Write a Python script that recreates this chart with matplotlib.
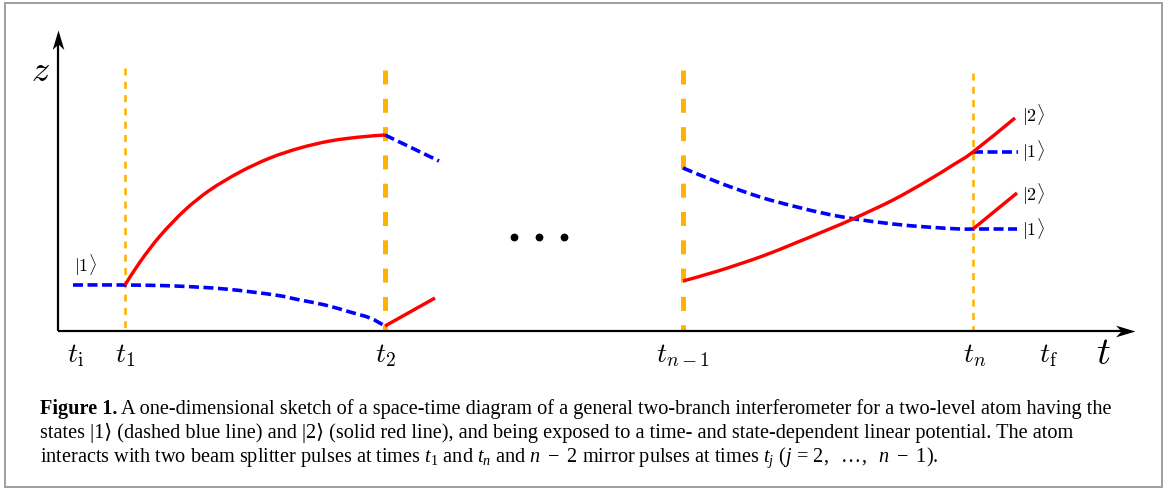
import matplotlib
matplotlib.use("Agg")
import matplotlib.pyplot as plt
from matplotlib.path import Path
from matplotlib.patches import Rectangle, PathPatch

# ---------------- data (t, z in sketch units) ----------------
pulse_times = [0.67, 3.27, 6.25, 9.15]          # t1, t2, t_{n-1}, t_n
pulse_kind = ["split", "mirror", "mirror", "split"]
pulse_top = [2.63, 2.61, 2.61, 2.58]

tick_pos = [0.17, 0.67, 3.27, 6.25, 9.17, 9.90]
tick_labels = [r"$t_{\mathrm{i}}$", r"$t_1$", r"$t_2$", r"$t_{n-1}$", r"$t_n$", r"$t_{\mathrm{f}}$"]

# first segment (t_i -> t2)
blue1_t = [0.15, 0.67, 1.17, 1.67, 2.17, 2.42, 2.67, 2.92, 3.12, 3.27]
blue1_z = [0.46, 0.46, 0.45, 0.42, 0.36, 0.31, 0.26, 0.19, 0.13, 0.05]
red1_t = [0.67, 0.82, 1.02, 1.27, 1.52, 1.82, 2.12, 2.42, 2.72, 3.02, 3.27]
red1_z = [0.46, 0.69, 0.95, 1.21, 1.41, 1.59, 1.73, 1.83, 1.90, 1.94, 1.96]
# short pieces after t2
blue2_t = [3.27, 3.81]
blue2_z = [1.96, 1.70]
red2_t = [3.27, 3.77]
red2_z = [0.05, 0.33]

# last segment (t_{n-1} -> t_f)
blue3_t = [6.25, 6.62, 7.02, 7.35, 7.69, 7.97, 8.35, 8.69, 9.02, 9.15, 9.59]
blue3_z = [1.63, 1.48, 1.34, 1.25, 1.17, 1.12, 1.07, 1.04, 1.02, 1.02, 1.02]
red3_t = [6.25, 6.60, 7.02, 7.35, 7.69, 7.97, 8.35, 8.69, 8.95, 9.15, 9.57]
red3_z = [0.50, 0.60, 0.74, 0.87, 1.01, 1.13, 1.31, 1.50, 1.66, 1.79, 2.13]
blue4_t = [9.15, 9.60]
blue4_z = [1.79, 1.79]
red4_t = [9.15, 9.59]
red4_z = [1.02, 1.38]

out_labels = [r"$|2\rangle$", r"$|1\rangle$", r"$|2\rangle$", r"$|1\rangle$"]
out_label_z = [2.16, 1.80, 1.37, 1.02]
out_label_t = 9.64
in_label = r"$|1\rangle$"
in_label_pos = (0.27, 0.66)

dots_t = [4.56, 4.81, 5.06]
dots_z = [0.94, 0.94, 0.94]

axis_t_end = 10.77
axis_z_end = 3.01

caption_head = "Figure 1."
caption = [
    "A one-dimensional sketch of a space-time diagram of a general two-branch interferometer for a two-level atom having the",
    "states |1\u27e9 (dashed blue line) and |2\u27e9 (solid red line), and being exposed to a time- and state-dependent linear potential. The atom",
    r"interacts with two beam splitter pulses at times $t_1$ and $t_n$ and $n\ -\ 2$ mirror pulses at times $t_j$ $(j\,=\,2,\ \ \ldots,\ \ n\ -\ 1)$.",
]

# ---------------- style ----------------
plt.rcParams["mathtext.fontset"] = "cm"
plt.rcParams["mathtext.rm"] = "Liberation Serif"
plt.rcParams["mathtext.it"] = "Liberation Serif:italic"
plt.rcParams["mathtext.bf"] = "Liberation Serif:bold"
plt.rcParams["lines.scale_dashes"] = False

W, H = 1168, 490
fig = plt.figure(figsize=(W / 100, H / 100), dpi=100)
ax = fig.add_axes([0, 0, 1, 1])
ax.set_xlim(-0.58, (W - 58) / 100)
ax.set_ylim((331 - H) / 100, 331 / 100)
ax.axis("off")

px = 72 / 100  # points per pixel
ORANGE = "#FFB300"
BLUE = "#0000FF"
RED = "#FF0000"
SERIF = ["Liberation Serif", "DejaVu Serif", "DejaVu Sans"]


def smooth_path(ts, zs):
    """Smooth (Catmull-Rom) Bezier path through the read points."""
    pts = list(zip(ts, zs))
    n = len(pts)
    if n == 2:
        return Path(pts, [Path.MOVETO, Path.LINETO])
    verts = [pts[0]]
    codes = [Path.MOVETO]
    for i in range(n - 1):
        p0 = pts[i - 1] if i > 0 else pts[i]
        p1 = pts[i]
        p2 = pts[i + 1]
        p3 = pts[i + 2] if i + 2 < n else pts[i + 1]
        c1 = (p1[0] + (p2[0] - p0[0]) / 6, p1[1] + (p2[1] - p0[1]) / 6)
        c2 = (p2[0] - (p3[0] - p1[0]) / 6, p2[1] - (p3[1] - p1[1]) / 6)
        verts += [c1, c2, p2]
        codes += [Path.CURVE4] * 3
    return Path(verts, codes)


def draw_curve(ts, zs, color, lw, dashes=None, z=3):
    ls = "-" if dashes is None else (0, dashes)
    patch = PathPatch(smooth_path(ts, zs), facecolor="none", edgecolor=color, lw=lw,
                      linestyle=ls, capstyle="butt", joinstyle="round", zorder=z)
    ax.add_patch(patch)


# frame round the figure
fig.patches.append(Rectangle((5 / W, 3 / H), 1157 / W, 484 / H, transform=fig.transFigure,
                             fill=False, edgecolor="#a0a0a0", linewidth=2 * px))

# pulses
for tp, kind, top in zip(pulse_times, pulse_kind, pulse_top):
    if kind == "mirror":
        ax.plot([tp, tp], [top, 0], color=ORANGE, lw=5 * px, dashes=(14 * px, 14.3 * px),
                solid_capstyle="butt", dash_capstyle="butt", zorder=2)
    else:
        ax.plot([tp, tp], [top, 0], color=ORANGE, lw=2.6 * px, dashes=(7 * px, 6.3 * px),
                dash_capstyle="butt", zorder=2)

# axes with stealth arrowheads
ax.plot([0, 0], [0, axis_z_end - 0.12], color="black", lw=2.2 * px, zorder=5, solid_capstyle="butt")
ax.plot([0, axis_t_end - 0.12], [0, 0], color="black", lw=2.2 * px, zorder=5, solid_capstyle="butt")
head_up = Path([(0, 0), (-0.3, -1), (0, -0.72), (0.3, -1), (0, 0)],
               [Path.MOVETO, Path.LINETO, Path.LINETO, Path.LINETO, Path.CLOSEPOLY])
head_right = Path([(0, 0), (-1, 0.3), (-0.72, 0), (-1, -0.3), (0, 0)],
                  [Path.MOVETO, Path.LINETO, Path.LINETO, Path.LINETO, Path.CLOSEPOLY])
ax.plot([0], [axis_z_end], marker=head_up, ms=28, color="black", mew=0, zorder=6)
ax.plot([axis_t_end], [0], marker=head_right, ms=28, color="black", mew=0, zorder=6)

# trajectories
blue_dash = (10 * px, 4.5 * px)
blue_lw = 3.6 * px
red_lw = 3.4 * px
draw_curve(blue1_t, blue1_z, BLUE, blue_lw, blue_dash, 3)
draw_curve(red1_t, red1_z, RED, red_lw, None, 4)
draw_curve(blue2_t, blue2_z, BLUE, blue_lw, blue_dash, 3)
draw_curve(red2_t, red2_z, RED, red_lw, None, 4)
draw_curve(blue3_t, blue3_z, BLUE, blue_lw, blue_dash, 3)
draw_curve(red3_t, red3_z, RED, red_lw, None, 4)
draw_curve(blue4_t, blue4_z, BLUE, blue_lw, blue_dash, 3)
draw_curve(red4_t, red4_z, RED, red_lw, None, 4)

# ellipsis dots
ax.plot(dots_t, dots_z, "o", color="black", ms=4.6, zorder=5)

# labels
for tp, lab in zip(tick_pos, tick_labels):
    ax.text(tp, -0.24, lab, fontsize=20, ha="center", va="center", math_fontfamily="cm")
ax.text(10.45, -0.22, r"$t$", fontsize=28, ha="center", va="center", math_fontfamily="cm")
ax.text(-0.18, 2.60, r"$z$", fontsize=26, ha="center", va="center", math_fontfamily="cm")
for z, lab in zip(out_label_z, out_labels):
    ax.text(out_label_t, z, lab, fontsize=13, ha="left", va="center", math_fontfamily="cm")
ax.text(in_label_pos[0], in_label_pos[1], in_label, fontsize=13, ha="center", va="center",
        math_fontfamily="cm")

# caption, fitted to the reference line width
cap_x = 40
cap_base = [414, 438, 462]
target_w = 1067
gap = 4
fig.canvas.draw()
renderer = fig.canvas.get_renderer()
p1 = fig.text(0, 0.1, caption_head, fontsize=12, family=SERIF, weight="bold")
p2 = fig.text(0, 0.1, caption[0], fontsize=12, family=SERIF)
w_head = p1.get_window_extent(renderer).width
w_rest = p2.get_window_extent(renderer).width
p1.remove()
p2.remove()
fs = 12 * (target_w - gap) / (w_head + w_rest)
head_w = w_head * fs / 12

fig.text(cap_x / W, 1 - cap_base[0] / H, caption_head, fontsize=fs, family=SERIF,
         weight="bold", ha="left", va="baseline")
fig.text((cap_x + head_w + gap) / W, 1 - cap_base[0] / H, caption[0], fontsize=fs,
         family=SERIF, ha="left", va="baseline")
fig.text(cap_x / W, 1 - cap_base[1] / H, caption[1], fontsize=fs, family=SERIF,
         ha="left", va="baseline")
fig.text(cap_x / W, 1 - cap_base[2] / H, caption[2], fontsize=fs, family=SERIF,
         math_fontfamily="custom", ha="left", va="baseline")

fig.savefig("out.png", dpi=100)
